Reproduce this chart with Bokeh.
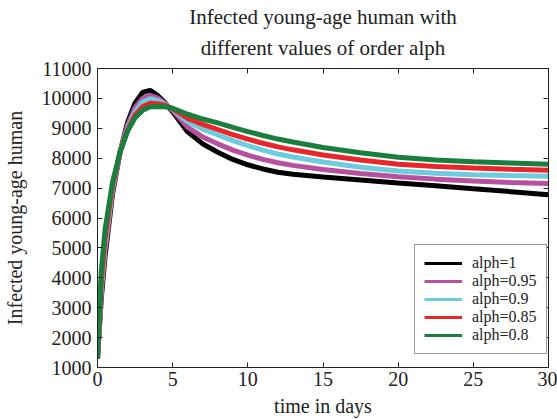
from bokeh.plotting import figure
from bokeh.models import (ColumnDataSource, Legend, LegendItem, LinearAxis, Title,
                          Range1d, CustomJSTickFormatter)
from bokeh.embed import file_html
from bokeh.resources import INLINE

# ---- data ----
t = [0, 0.25, 0.5, 1, 1.5, 2, 2.5, 3, 3.5, 4, 4.5, 5, 6, 7, 8, 9, 10, 11, 12, 13,
     15, 17.5, 20, 22.5, 25, 27.5, 30]

alph_1 = [1300, 3300, 4700, 6800, 8200, 9200, 9850, 10200, 10270, 10100, 9850, 9550,
          8880, 8480, 8200, 7960, 7780, 7640, 7530, 7460, 7370, 7270, 7170, 7080,
          6980, 6880, 6780]
alph_095 = [1300, 3500, 4900, 6900, 8200, 9100, 9700, 10000, 10100, 10020, 9830, 9600,
            9030, 8710, 8480, 8270, 8100, 7960, 7850, 7760, 7620, 7490, 7380, 7300,
            7240, 7190, 7150]
alph_09 = [1300, 3700, 5100, 7000, 8200, 9000, 9550, 9880, 9990, 9930, 9800, 9630,
           9220, 8970, 8780, 8590, 8420, 8270, 8140, 8040, 7870, 7700, 7570, 7500,
           7450, 7420, 7400]
alph_085 = [1300, 3900, 5300, 7100, 8200, 8950, 9450, 9720, 9840, 9820, 9770, 9650,
            9330, 9130, 8960, 8790, 8640, 8500, 8380, 8280, 8110, 7940, 7800, 7720,
            7670, 7630, 7600]
alph_08 = [1300, 4200, 5600, 7200, 8200, 8900, 9350, 9600, 9720, 9730, 9720, 9670,
           9470, 9310, 9180, 9030, 8890, 8760, 8640, 8540, 8360, 8180, 8030, 7940,
           7880, 7840, 7800]

series_labels = ["alph=1", "alph=0.95", "alph=0.9", "alph=0.85", "alph=0.8"]
series_values = [alph_1, alph_095, alph_09, alph_085, alph_08]
colors = ["#000000", "#B6509F", "#6DCCDD", "#E8262B", "#1A7E3E"]

x_ticks = [0, 5, 10, 15, 20, 25, 30]
y_ticks = [1000, 2000, 3000, 4000, 5000, 6000, 7000, 8000, 9000, 10000, 11000]

title_lines = ["Infected young-age human with", "different values of order alph"]

FONT = "Liberation Serif"
TXT = "#222222"

p = figure(width=557, height=419, output_backend="svg", toolbar_location=None,
           x_range=Range1d(0, 30), y_range=Range1d(1000, 11000),
           min_border_left=95, min_border_right=9, min_border_top=68,
           min_border_bottom=51, title=None)
p.xgrid.visible = False
p.ygrid.visible = False
p.outline_line_color = "#222222"
p.background_fill_color = "white"
p.border_fill_color = "white"

src = ColumnDataSource(dict(t=t, **{f"s{i}": v for i, v in enumerate(series_values)}))

# thin legend proxies drawn first (hidden under the thick lines)
items = []
for i, (lab, c) in enumerate(zip(series_labels, colors)):
    r = p.line("t", f"s{i}", source=src, line_color=c, line_width=3)
    items.append(LegendItem(label=lab, renderers=[r]))
for i, c in enumerate(colors):
    p.line("t", f"s{i}", source=src, line_color=c, line_width=5)

legend = Legend(items=items, location=(317, 13), label_text_font=FONT,
                label_text_font_size="16px", label_text_color=TXT,
                glyph_width=38, glyph_height=14, label_height=14,
                spacing=-3, padding=9, margin=0,
                border_line_color="#333333", border_line_width=1,
                label_standoff=10)
p.add_layout(legend, "center")

def style_axis(ax, labels=True):
    ax.major_tick_in = 5
    ax.major_tick_out = 0
    ax.minor_tick_in = 0
    ax.minor_tick_out = 0
    ax.axis_line_color = "#222222"
    ax.major_tick_line_color = "#222222"
    if labels:
        ax.major_label_text_font = FONT
        ax.major_label_text_font_size = "20px"
        ax.major_label_text_color = TXT
    else:
        ax.formatter = CustomJSTickFormatter(code="return ''")
        ax.major_label_standoff = 0

p.xaxis.ticker = x_ticks
p.yaxis.ticker = y_ticks
style_axis(p.xaxis[0])
style_axis(p.yaxis[0])
p.xaxis.major_label_standoff = 4
p.yaxis.major_label_standoff = 6
p.xaxis.axis_label = "time in days"
p.yaxis.axis_label = "Infected young-age human"
for ax in (p.xaxis[0], p.yaxis[0]):
    ax.axis_label_text_font = FONT
    ax.axis_label_text_font_size = "20px"
    ax.axis_label_text_font_style = "normal"
    ax.axis_label_text_color = TXT
p.xaxis.axis_label_standoff = 6
p.yaxis.axis_label_standoff = 13

top = LinearAxis(ticker=x_ticks)
style_axis(top, labels=False)
p.add_layout(top, "above")
right = LinearAxis(ticker=y_ticks)
style_axis(right, labels=False)
p.add_layout(right, "right")

t2 = Title(text=title_lines[1], align="center", text_font=FONT,
           text_font_size="21px", text_font_style="normal", text_color=TXT,
           standoff=17, text_line_height=0.75)
t1 = Title(text=title_lines[0], align="center", text_font=FONT,
           text_font_size="21px", text_font_style="normal", text_color=TXT,
           standoff=-6)
p.add_layout(t2, "above")
p.add_layout(t1, "above")

open("out.html", "w").write(file_html(p, INLINE))
